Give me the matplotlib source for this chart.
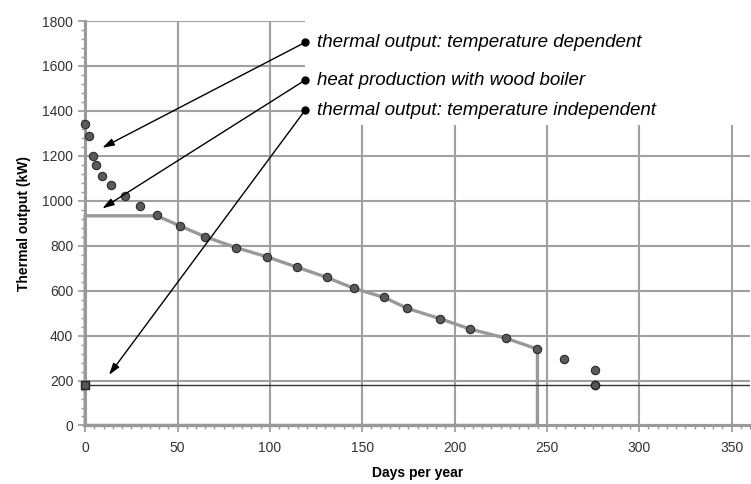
import matplotlib
matplotlib.use("Agg")
import matplotlib.pyplot as plt
from matplotlib.ticker import MultipleLocator
from matplotlib.patches import Rectangle

plt.rcParams['font.family'] = ['Liberation Sans', 'DejaVu Sans']

# temperature dependent thermal output (dots)
temp_dep_days = [0, 2, 4, 6, 9.3, 14.1, 21.4, 29.5, 38.9, 51.4, 64.9, 81.9, 98.3,
                 114.6, 130.8, 145.6, 161.9, 174.5, 192.2, 208.5, 227.9, 244.9,
                 259.5, 275.8]
temp_dep_kw = [1341, 1290, 1201, 1157, 1111, 1070, 1022, 976, 936, 888, 840, 791,
               751, 705, 659, 610, 570, 521, 475, 429, 388, 340, 294, 247]

# heat production with wood boiler (outline)
boiler_days = [0, 0, 38.9, 51.4, 64.9, 81.9, 98.3, 114.6, 130.8, 145.6, 161.9,
               174.5, 192.2, 208.5, 227.9, 244.9, 244.9, 0]
boiler_kw = [0, 933, 933, 888, 840, 791, 751, 705, 659, 610, 570, 521, 475, 429,
             388, 340, 0, 0]

# temperature independent thermal output
indep_level = 180
indep_days = [0, 275.8]

labels = ["thermal output: temperature dependent",
          "heat production with wood boiler",
          "thermal output: temperature independent"]
label_y = [1705, 1537, 1403]
arrow_tips = [(9.3, 1236), (9.3, 966), (12.9, 225)]

fig = plt.figure(figsize=(7.51, 4.84), dpi=100)
ax = fig.add_axes([0.1134, 0.1209, 0.8853, 0.8357])
ax.set_xlim(0, 360)
ax.set_ylim(0, 1800)

grid_c = '#a0a0a0'
ax.xaxis.set_major_locator(MultipleLocator(50))
ax.xaxis.set_minor_locator(MultipleLocator(5))
ax.yaxis.set_major_locator(MultipleLocator(200))
ax.yaxis.set_minor_locator(MultipleLocator(40))
ax.grid(True, which='major', color=grid_c, lw=1.5, zorder=0)
ax.set_axisbelow(True)

for s in ['top', 'right']:
    ax.spines[s].set_visible(False)
for s in ['left', 'bottom']:
    ax.spines[s].set_color('#9a9a9a')
    ax.spines[s].set_linewidth(2.2)

ax.tick_params(which='major', direction='out', length=5, width=1.2, color='#9a9a9a',
               labelsize=10, labelcolor='#333333')
ax.tick_params(which='minor', direction='out', length=3, width=1.0, color='#9a9a9a')
ax.tick_params(axis='x', pad=6)

# white box behind annotations
ax.add_patch(Rectangle((119, 1337), 260, 500, facecolor='white', edgecolor='none',
                       zorder=1, clip_on=False))

# wood boiler outline
ax.plot(boiler_days, boiler_kw, color='#999999', lw=2.4, zorder=3, clip_on=False,
        solid_joinstyle='miter')

# temperature independent line
ax.axhline(indep_level, color='#333333', lw=1.0, zorder=3)
ax.plot([indep_days[0]], [indep_level], 's', color='#555555', mec='#222222',
        ms=6, zorder=5, clip_on=False)
ax.plot([indep_days[1]], [indep_level], 'o', color='#555555', mec='#222222',
        ms=6, zorder=5, clip_on=False)

# temperature dependent dots
ax.plot(temp_dep_days, temp_dep_kw, 'o', color='#5a5a5a', mec='#2a2a2a', mew=0.8,
        ms=6, zorder=5, clip_on=False, ls='none')

# annotations
for lab, ly, tip in zip(labels, label_y, arrow_tips):
    ax.annotate('', xy=tip, xytext=(119.1, ly),
                arrowprops=dict(arrowstyle='-|>,head_length=0.7,head_width=0.22',
                                color='black', lw=1.0, shrinkA=0, shrinkB=0),
                zorder=6, annotation_clip=False)
    ax.plot([119.1], [ly], 'o', color='black', ms=5, zorder=7, clip_on=False)
    ax.text(125.4, ly, lab, style='italic', fontsize=13.5, va='center', ha='left',
            color='black', zorder=7)

ax.set_xlabel('Days per year', fontsize=10, fontweight='bold', labelpad=8)
ax.set_ylabel('Thermal output (kW)', fontsize=10, fontweight='bold', labelpad=8)

fig.savefig('out.png', dpi=100)
